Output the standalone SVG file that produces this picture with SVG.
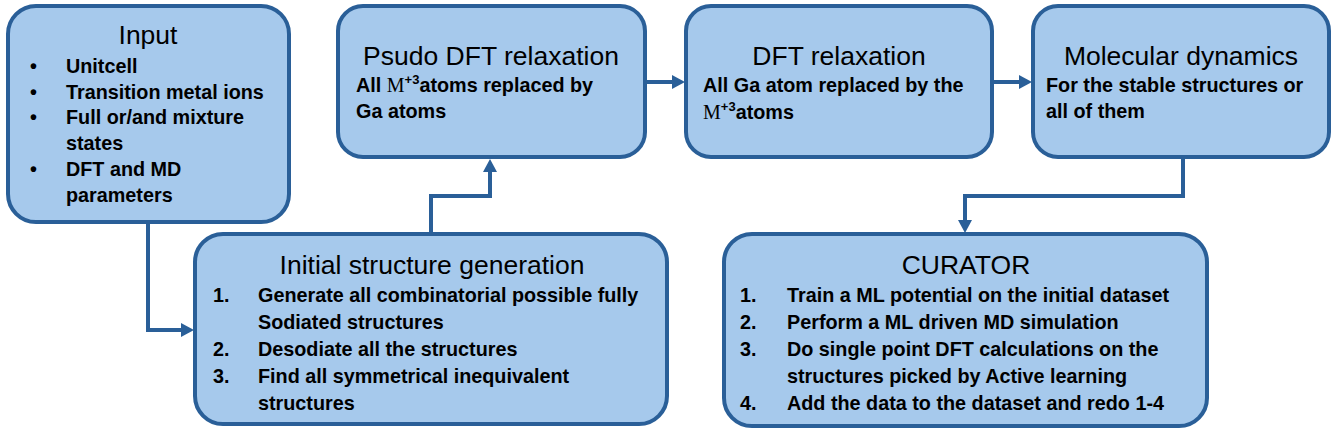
<svg xmlns="http://www.w3.org/2000/svg" width="1337" height="433" viewBox="0 0 1337 433">
<style>
.box{fill:#A6C9EC;stroke:#2A5F98;stroke-width:4}
.title{font-family:"Liberation Sans",Arial,sans-serif;font-size:26.5px;fill:#000}
.body{font-family:"Liberation Sans",Arial,sans-serif;font-size:19.8px;font-weight:bold;fill:#000}
.m{font-family:"Liberation Serif","Times New Roman",serif;font-weight:normal;font-size:20px}
.sup{font-size:13px}
.conn{fill:none;stroke:#2A5F98;stroke-width:4;marker-end:url(#arr)}
</style>
<defs>
<marker id="arr" markerUnits="userSpaceOnUse" markerWidth="14" markerHeight="14" refX="3" refY="7" orient="auto">
<path d="M0,0 L13,7 L0,14 z" fill="#2A5F98"/>
</marker>
</defs>
<rect width="1337" height="433" fill="#fff"/>

<g id="connectors">
<path class="conn" d="M148,223 V330 H184"/>
<path class="conn" d="M431,234 V196 H490 V169"/>
<path class="conn" d="M645,82 H675"/>
<path class="conn" d="M992,82 H1022"/>
<path class="conn" d="M1183,157 V196 H965 V223"/>
</g>

<g id="input">
<rect class="box" x="8" y="6" width="281" height="216" rx="28"/>
<text class="title" x="148" y="44" text-anchor="middle">Input</text>
<g class="body">
<text x="30" y="73">•</text><text x="66" y="73">Unitcell</text>
<text x="30" y="99">•</text><text x="66" y="99">Transition metal ions</text>
<text x="30" y="124">•</text><text x="66" y="124">Full or/and mixture</text>
<text x="66" y="150">states</text>
<text x="30" y="176">•</text><text x="66" y="176">DFT and MD</text>
<text x="66" y="202">parameters</text>
</g>
</g>

<g id="psudo">
<rect class="box" x="338" y="6" width="307" height="151" rx="25"/>
<text class="title" x="491" y="65" text-anchor="middle">Psudo DFT relaxation</text>
<text class="body" x="356" y="92">All <tspan class="m">M</tspan><tspan class="sup" dy="-8">+3</tspan><tspan dy="8">atoms replaced by</tspan></text>
<text class="body" x="356" y="118">Ga atoms</text>
</g>

<g id="dft">
<rect class="box" x="686" y="6" width="306" height="151" rx="25"/>
<text class="title" x="839" y="65" text-anchor="middle">DFT relaxation</text>
<text class="body" x="703" y="92">All Ga atom replaced by the</text>
<text class="body" x="703" y="119"><tspan class="m">M</tspan><tspan class="sup" dy="-8">+3</tspan><tspan dy="8">atoms</tspan></text>
</g>

<g id="md">
<rect class="box" x="1033" y="6" width="296" height="151" rx="25"/>
<text class="title" x="1181" y="65" text-anchor="middle">Molecular dynamics</text>
<text class="body" x="1046" y="92">For the stable structures or</text>
<text class="body" x="1046" y="118">all of them</text>
</g>

<g id="initial">
<rect class="box" x="195" y="234" width="472" height="190" rx="28"/>
<text class="title" x="432" y="274" text-anchor="middle">Initial structure generation</text>
<g class="body">
<text x="213" y="302">1.</text><text x="258" y="302">Generate all combinatorial possible fully</text>
<text x="258" y="329">Sodiated structures</text>
<text x="213" y="356">2.</text><text x="258" y="356">Desodiate all the structures</text>
<text x="213" y="383">3.</text><text x="258" y="383">Find all symmetrical inequivalent</text>
<text x="258" y="410">structures</text>
</g>
</g>

<g id="curator">
<rect class="box" x="724" y="234" width="483" height="192" rx="28"/>
<text class="title" x="966" y="274" text-anchor="middle">CURATOR</text>
<g class="body">
<text x="740" y="302">1.</text><text x="787" y="302">Train a ML potential on the initial dataset</text>
<text x="740" y="329">2.</text><text x="787" y="329">Perform a ML driven MD simulation</text>
<text x="740" y="356">3.</text><text x="787" y="356">Do single point DFT calculations on the</text>
<text x="787" y="383">structures picked by Active learning</text>
<text x="740" y="410">4.</text><text x="787" y="410">Add the data to the dataset and redo 1-4</text>
</g>
</g>
</svg>
